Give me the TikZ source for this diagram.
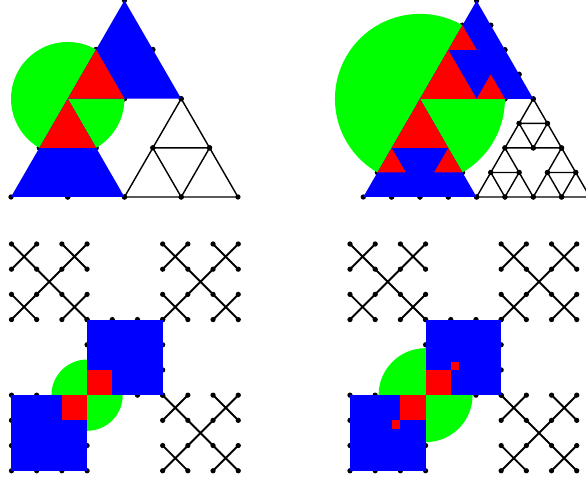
\documentclass[tikz,border=0pt]{standalone}
\usepackage{tikz}
\begin{document}
\begin{tikzpicture}[
    x=0.02cm, y=-0.02cm,
    vtx/.style={fill=black},
    edge/.style={draw=black, line width=0.8pt, line join=round},
    cross/.style={draw=black, line width=1.1pt},
    piece/.style={fill=blue},
    ballpiece/.style={fill=red},
    ball/.style={fill=green}
]
\useasboundingbox (0,0) rectangle (586,482);

% gasket, level 2
\begin{scope}[shift={(11,197)}, x={(1.135cm,0cm)}, y={(0.5675cm,0.983cm)}]
  \foreach \u/\v in {0/0,2/0,0/2}
    \foreach \i/\j in {0/0,1/0,0/1}
      \foreach \a/\b in {0/0,1/0,0/1}
        \fill[vtx] ({\u+\i+\a},{\v+\j+\b}) circle[radius=1.5pt];
  \fill[ball] (0,2) circle[radius=1.135cm];
  \fill[piece] (0,0) -- (2,0) -- (0,2) -- cycle;
  \fill[piece] (0,2) -- (2,2) -- (0,4) -- cycle;
  \foreach \i/\j in {0/1,0/2}
    \fill[ballpiece] (\i,\j) -- ++(1,0) -- ++(-1,1) -- cycle;
  \foreach \i/\j in {2/0,3/0,2/1}
    \draw[edge] (\i,\j) -- ++(1,0) -- ++(-1,1) -- cycle;
\end{scope}

% gasket, level 3
\begin{scope}[shift={(363.3,197)}, x={(0.5667cm,0cm)}, y={(0.2833cm,0.4907cm)}]
  \foreach \u/\v in {0/0,4/0,0/4}
    \foreach \i/\j in {0/0,1/0,2/0,3/0,0/1,2/1,0/2,1/2,0/3}
      \foreach \a/\b in {0/0,1/0,0/1}
        \fill[vtx] ({\u+\i+\a},{\v+\j+\b}) circle[radius=1.5pt];
  \fill[ball] (0,4) circle[radius=1.7cm];
  \fill[piece] (0,0) -- (4,0) -- (0,4) -- cycle;
  \fill[piece] (0,4) -- (4,4) -- (0,8) -- cycle;
  \foreach \i/\j/\s in {0/2/2, 0/1/1, 2/1/1, 0/4/2, 0/6/1, 2/4/1}
    \fill[ballpiece] (\i,\j) -- ++(\s,0) -- ++(-\s,\s) -- cycle;
  \foreach \i/\j in {0/0,1/0,2/0,3/0,0/1,2/1,0/2,1/2,0/3}
    \draw[edge] ({4+\i},\j) -- ++(1,0) -- ++(-1,1) -- cycle;
\end{scope}

% crosses, level 2
\begin{scope}[shift={(11.5,244)}, x={(0.504cm,0cm)}, y={(0cm,-0.504cm)}]
  \foreach \u/\v in {0/0,6/0,3/3,0/6,6/6}
    \foreach \p in {0,...,3}
      \foreach \q in {0,...,3}
        \fill[vtx] ({\u+\p},{\v+\q}) circle[radius=1.5pt];
  \foreach \u/\v in {0/0,6/0,6/6}
    \foreach \i/\j in {0/0,2/0,1/1,0/2,2/2}
      \draw[cross] ({\u+\i},{\v+\j}) -- ++(1,1) ++(0,-1) -- ++(-1,1);
  \fill[ball] (3,6) circle[radius=0.713cm];
  \fill[piece] (3,3) rectangle (6,6);
  \fill[piece] (0,6) rectangle (3,9);
  \fill[ballpiece] (3,5) rectangle (4,6);
  \fill[ballpiece] (2,6) rectangle (3,7);
\end{scope}

% crosses, level 3 ball
\begin{scope}[shift={(350,244)}, x={(0.504cm,0cm)}, y={(0cm,-0.504cm)}]
  \foreach \u/\v in {0/0,6/0,3/3,0/6,6/6}
    \foreach \p in {0,...,3}
      \foreach \q in {0,...,3}
        \fill[vtx] ({\u+\p},{\v+\q}) circle[radius=1.5pt];
  \foreach \u/\v in {0/0,6/0,6/6}
    \foreach \i/\j in {0/0,2/0,1/1,0/2,2/2}
      \draw[cross] ({\u+\i},{\v+\j}) -- ++(1,1) ++(0,-1) -- ++(-1,1);
  \fill[ball] (3,6) circle[radius=0.94cm];
  \fill[piece] (3,3) rectangle (6,6);
  \fill[piece] (0,6) rectangle (3,9);
  \fill[ballpiece] (3,5) rectangle (4,6);
  \fill[ballpiece] (2,6) rectangle (3,7);
  \fill[ballpiece] (4,4.667) rectangle (4.333,5);
  \fill[ballpiece] (1.667,7) rectangle (2,7.333);
\end{scope}
\end{tikzpicture}
\end{document}
